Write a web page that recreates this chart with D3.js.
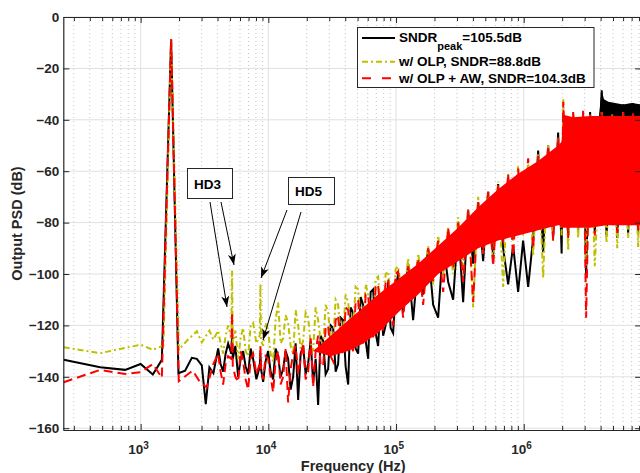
<!DOCTYPE html>
<html>
<head>
<meta charset="utf-8">
<script src="https://cdn.jsdelivr.net/npm/d3@7/dist/d3.min.js"></script>
<style>
  body { margin: 0; background: #fff; }
  svg { display: block; font-family: "Liberation Sans", Arial, Helvetica, sans-serif; }
</style>
</head>
<body>
<div id="chart"></div>
<script>
// ---- data (Hz, dB) ----
const lowBlack = [[250,-133.4],[482,-136.3],[757,-137.3],[1000,-135],[1246,-139.1],[1466,-133.4],[1733,-8.7],[1977,-138.6],[2229,-137.6],[2517,-132.6],[2754,-133],[3013,-135.6],[3237,-150.6],[3455,-136.3],[3715,-138.6]];
const lowOlive = [[250,-128.5],[482,-130.8],[1000,-127.5],[1246,-129.5],[1510,-127.8],[1733,-8.7],[1990,-129.5],[2300,-126],[2754,-122.3],[3013,-126.6],[3455,-122],[3715,-125.5]];
const lowRed = [[250,-142.1],[482,-137.3],[757,-138.9],[1000,-138.2],[1246,-135],[1466,-140.4],[1733,-8.7],[1990,-141.7],[2554,-137.6],[2920,-142.1],[3293,-144.1],[3715,-135]];

// noise band, shared frequency bins (4 kHz .. 8.3 MHz)
const bandFreq = [
  4045,4230,4426,4630,4844,5130,5200,5270,5520,5801,6070,6349,6640,6946,7270,7603,8060,8560,8665,8770,
  9106,9520,9963,10420,10900,11400,11930,12480,13060,13660,14290,14950,15640,16360,17120,17900,18730,19600,20500,21450,
  22430,23470,24550,25680,26870,28100,29400,30760,32180,33660,35200,36820,38500,40300,42200,44100,46100,48250,50500,52850,
  55300,57850,60500,63300,66200,69250,72400,75800,79300,82900,86700,90700,94900,99300,103900,
  113700,124400,136100,149000,163000,178400,195300,213700,233900,255900,280100,306500,335400,367000,401700,439500,481000,526400,576000,630400,
  689900,755000,826000,904000,989000,1083000,1185000,1297000,1419000,1553000,1699000,1860000,1980000,2040000,2227000,2437000,2667000,2919000,3080000,3310000,
  3600000,4080000,4450000,4930000,5400000,6000000,6570000,7190000,7870000,8300000];
const bandBlack = [
  -129,-135,-138,-131,-127,-131,-124,-133,-128,-140,-133,-130,-136,-139,-129,-133,-141,-136,-131,-137,
  -142,-134,-130,-138,-141,-129,-132,-140,-137,-130,-133,-145,-140,-127,-149,-131,-128,-139,-135,-126,
  -142,-133,-151,-124,-126,-139,-137,-120,-121,-138,-135,-117,-118,-136,-143,-113,-115,-129,-131,-109,
  -112,-126,-133,-107,-106,-123,-128,-110,-124,-120,-103,-121,-123,-106,-100,
  -115,-96,-118,-95,-108,-90,-112,-117,-88,-103,-110,-81,-111,-75,-96,-72,-95,-68,-93,-65,
  -90,-104,-89,-107,-87,-105,-86,-52,-91.5,-50,-86,-45,-92,-38,-85,-38,-83,-38,-100,-37,
  -84,-28.5,-85,-33.5,-86,-34,-84,-33.5,-84,-34];
const bandOlive = [
  -122,-127,-131,-124,-120,-125,-98.6,-127,-122,-133,-125,-121,-130,-132,-120,-119,-127,-124,-103.8,-126,
  -128,-119,-122,-131,-134,-118,-111,-127,-125,-116,-119,-128,-131,-114,-120,-129,-126,-115,-117,-127,
  -130,-113,-118,-126,-128,-112,-115,-125,-126,-110,-112,-123,-124,-108,-111,-121,-122,-105,-106,-118,
  -120,-104,-108,-116,-119,-102,-101,-114,-117,-100,-99,-110,-114,-98,-97,
  -112,-94,-110,-92,-106,-89,-104,-85,-101,-82,-100,-78,-97,-75,-113,-70,-92,-68,-96,-64,
  -105,-61,-87,-58,-85,-56,-93,-53,-101.6,-50,-84,-47,-85,-32,-91,-37,-86,-38,-97,-38,
  -97,-37,-88,-38,-90,-37,-86,-38,-89.5,-38];
const bandRed = [
  -131,-138,-143,-135,-132,-133,-115,-136,-140,-142,-130,-134,-141,-145,-133,-131,-139,-135,-128,-137,
  -141,-132,-133,-140,-146,-134,-130,-143,-140,-129,-150,-137,-131,-128,-139,-133,-127,-141,-138,-125,
  -144,-130,-124,-135,-136,-121,-120,-132,-134,-118,-116,-129,-131,-113,-114,-127,-130,-111,-110,-124,
  -127,-108,-108,-121,-125,-105,-104,-119,-122,-103,-102,-116,-120,-100,-99,
  -117,-97,-108,-94,-112,-90,-103,-87,-107,-82,-98,-80,-103,-75,-111,-72,-92,-68,-97,-65,
  -88,-61,-93,-59,-85,-55,-90,-54,-83,-50,-87,-47,-82,-33,-86,-37,-81,-36.5,-117,-38,
  -85,-37,-80,-37.5,-84,-37,-81,-37.5,-83,-37];

// solid core of the red band
const coreFreq = [22430,30760,42200,55300,72400,103900,149000,213700,306500,439500,630400,904000,1297000,1860000,1980000,2040000,2437000,3310000,4450000,6000000,8300000];
const coreTop = [-130,-124,-118,-113,-108,-102,-96,-89,-82,-74,-67,-61,-56,-50,-48.5,-38,-39,-38.5,-38.5,-38.5,-38.5];
const coreBot = [-130,-132,-130,-127,-123,-115,-108,-100,-95,-90,-87,-85,-83,-81,-81,-82,-82,-82,-81,-81,-81];

// black strip above the red band near 4-8 MHz
const blackStripFreq = [3900000,4080000,4250000,4600000,5200000,6000000,7000000,8300000];
const blackStripTop = [-38,-28.5,-32,-33,-33.5,-34,-33.5,-34];
const blackStripBot = [-41,-41,-41,-41,-41,-41,-41,-41];

const yTicks = [0,-20,-40,-60,-80,-100,-120,-140,-160];
const xDecades = [1e3,1e4,1e5,1e6];
const legendNames = ["SNDR", "w/ OLP, SNDR=88.8dB", "w/ OLP + AW, SNDR=104.3dB"];

// ---- layout ----
const W = 640, H = 473;
const x = d3.scaleLog().domain([248, 8.3e6]).range([63.3, 641.1]);
const y = d3.scaleLinear().domain([-160.7, 0]).range([430, 17]);
const ink = "#262626";
const cBlack = "#000000", cOlive = "#bfbf00", cRed = "#ff0000";

const svg = d3.select("#chart").append("svg")
  .attr("width", W)
  .attr("height", H);

const [x0, x1] = x.range();
const [yb, yt] = y.range();

// minor log ticks
const minorTicks = [];
[100, 1e3, 1e4, 1e5, 1e6].forEach(d => {
  for (let k = 2; k <= 9; k++) {
    const v = d * k;
    if (v > x.domain()[0] && v < x.domain()[1]) minorTicks.push(v);
  }
});

// grid
const grid = svg.append("g");
grid.selectAll("line.minor")
  .data(minorTicks)
  .join("line")
  .attr("x1", d => x(d)).attr("x2", d => x(d))
  .attr("y1", yt).attr("y2", yb)
  .attr("stroke", "#c4c4c4")
  .attr("stroke-dasharray", "1,3");
grid.selectAll("line.vmaj")
  .data(xDecades)
  .join("line")
  .attr("x1", d => x(d)).attr("x2", d => x(d))
  .attr("y1", yt).attr("y2", yb)
  .attr("stroke", "#e0e0e0");
grid.selectAll("line.hmaj")
  .data(yTicks)
  .join("line")
  .attr("x1", x0).attr("x2", x1)
  .attr("y1", d => y(d)).attr("y2", d => y(d))
  .attr("stroke", "#e0e0e0");

// data
svg.append("clipPath").attr("id", "clip")
  .append("rect")
  .attr("x", x0).attr("y", yt)
  .attr("width", x1 - x0).attr("height", yb - yt);

const plot = svg.append("g").attr("clip-path", "url(#clip)");

const line = d3.line().x(d => x(d[0])).y(d => y(d[1]));
const area = d3.area()
  .x(d => x(d.f))
  .y0(d => y(d.lo))
  .y1(d => y(d.hi));
const series = (low, band) => low.concat(bandFreq.map((f, i) => [f, band[i]]));

plot.append("path")
  .datum(blackStripFreq.map((f, i) => ({ f, hi: blackStripTop[i], lo: blackStripBot[i] })))
  .attr("d", area)
  .attr("fill", cBlack);

plot.append("path")
  .datum(series(lowBlack, bandBlack))
  .attr("d", line)
  .attr("fill", "none")
  .attr("stroke", cBlack)
  .attr("stroke-width", 2);

plot.append("path")
  .datum(series(lowOlive, bandOlive))
  .attr("d", line)
  .attr("fill", "none")
  .attr("stroke", cOlive)
  .attr("stroke-width", 2)
  .attr("stroke-dasharray", "6,3,2,3");

plot.append("path")
  .datum(coreFreq.map((f, i) => ({ f, hi: coreTop[i], lo: coreBot[i] })))
  .attr("d", area)
  .attr("fill", cRed);

plot.append("path")
  .datum(series(lowRed, bandRed))
  .attr("d", line)
  .attr("fill", "none")
  .attr("stroke", cRed)
  .attr("stroke-width", 2)
  .attr("stroke-dasharray", "9,5");

// axes
const styleAxis = g => {
  g.selectAll("path, line").attr("stroke", ink);
  g.select(".domain").attr("stroke-width", 1.2);
  g.selectAll("text")
    .attr("fill", ink)
    .style("font-size", "13.5px")
    .style("font-weight", "bold");
};

svg.append("g")
  .attr("transform", `translate(0,${yb})`)
  .call(d3.axisBottom(x).tickValues(minorTicks).tickSizeInner(-4).tickSizeOuter(0).tickFormat(""))
  .call(styleAxis);
svg.append("g")
  .attr("transform", `translate(0,${yt})`)
  .call(d3.axisTop(x).tickValues(minorTicks).tickSizeInner(-4).tickSizeOuter(0).tickFormat(""))
  .call(styleAxis);
svg.append("g")
  .attr("transform", `translate(0,${yt})`)
  .call(d3.axisTop(x).tickValues(xDecades).tickSizeInner(-6).tickSizeOuter(0).tickFormat(""))
  .call(styleAxis);

const xAxis = svg.append("g")
  .attr("transform", `translate(0,${yb})`)
  .call(d3.axisBottom(x).tickValues(xDecades).tickSizeInner(-6).tickSizeOuter(0).tickPadding(14))
  .call(styleAxis);
xAxis.selectAll(".tick text").each(function(d) {
  const t = d3.select(this).text(null).attr("dx", "-0.2em");
  t.append("tspan").text("10");
  t.append("tspan").attr("dy", "-0.5em").style("font-size", "10px").text(Math.round(Math.log10(d)));
});

svg.append("g")
  .attr("transform", `translate(${x0},0)`)
  .call(d3.axisLeft(y).tickValues(yTicks).tickSizeInner(-6).tickSizeOuter(0).tickPadding(4))
  .call(styleAxis);
svg.append("g")
  .attr("transform", `translate(${x1},0)`)
  .call(d3.axisRight(y).tickValues(yTicks).tickSizeInner(-6).tickSizeOuter(0).tickFormat(""))
  .call(styleAxis);

// axis titles
svg.append("text")
  .attr("x", (x0 + x1) / 2 + 1)
  .attr("y", 470.5)
  .attr("text-anchor", "middle")
  .attr("fill", ink)
  .style("font-size", "14.5px")
  .style("font-weight", "bold")
  .text("Frequency (Hz)");

svg.append("text")
  .attr("transform", `translate(22,${(yt + yb) / 2}) rotate(-90)`)
  .attr("text-anchor", "middle")
  .attr("fill", ink)
  .style("font-size", "14.5px")
  .style("font-weight", "bold")
  .text("Output PSD (dB)");

// legend
const legend = svg.append("g");
legend.append("rect")
  .attr("x", 357.5).attr("y", 27.5)
  .attr("width", 236.5).attr("height", 60)
  .attr("fill", "#fff")
  .attr("stroke", ink);

const rows = [
  { y: 38, base: 41.7, color: cBlack, dash: null },
  { y: 61.7, base: 66, color: cOlive, dash: "6,3,2,3" },
  { y: 78.3, base: 82.7, color: cRed, dash: "9,11" }
];
rows.forEach((r, i) => {
  legend.append("line")
    .attr("x1", 362).attr("x2", 395)
    .attr("y1", r.y).attr("y2", r.y)
    .attr("stroke", r.color)
    .attr("stroke-width", 2)
    .attr("stroke-dasharray", r.dash);
  const t = legend.append("text")
    .attr("x", 399).attr("y", r.base)
    .attr("fill", "#000")
    .style("font-size", "13.5px")
    .style("font-weight", "bold");
  t.append("tspan").text(legendNames[i]);
  if (i === 0) {
    t.append("tspan").attr("dy", 8.5).style("font-size", "11px").text("peak");
    t.append("tspan").attr("dy", -8.5).text("=105.5dB");
  }
});

// HD annotations
const defs = svg.append("defs");
defs.append("marker")
  .attr("id", "head")
  .attr("viewBox", "-12 -5 13 10")
  .attr("refX", 0).attr("refY", 0)
  .attr("markerWidth", 13).attr("markerHeight", 10)
  .attr("markerUnits", "userSpaceOnUse")
  .attr("orient", "auto")
  .append("path")
  .attr("d", "M0,0 L-11,-4 L-8,0 L-11,4 Z")
  .attr("fill", "#000");

const notes = [
  { label: "HD3", box: [187.5, 168.5, 45, 30], arrows: [[210, 202, 227, 307], [221, 202, 234, 265]] },
  { label: "HD5", box: [288.5, 177.5, 46, 27], arrows: [[287, 210, 261, 278], [301, 212, 263, 340]] }
];
notes.forEach(n => {
  n.arrows.forEach(a => {
    svg.append("line")
      .attr("x1", a[0]).attr("y1", a[1])
      .attr("x2", a[2]).attr("y2", a[3])
      .attr("stroke", "#000")
      .attr("stroke-width", 1)
      .attr("marker-end", "url(#head)");
  });
  svg.append("rect")
    .attr("x", n.box[0]).attr("y", n.box[1])
    .attr("width", n.box[2]).attr("height", n.box[3])
    .attr("fill", "#fff")
    .attr("stroke", ink);
  svg.append("text")
    .attr("x", n.box[0] + 6.5)
    .attr("y", n.box[1] + n.box[3] / 2 + 5)
    .attr("fill", "#000")
    .style("font-size", "13.5px")
    .style("font-weight", "bold")
    .text(n.label);
});
</script>
</body>
</html>
